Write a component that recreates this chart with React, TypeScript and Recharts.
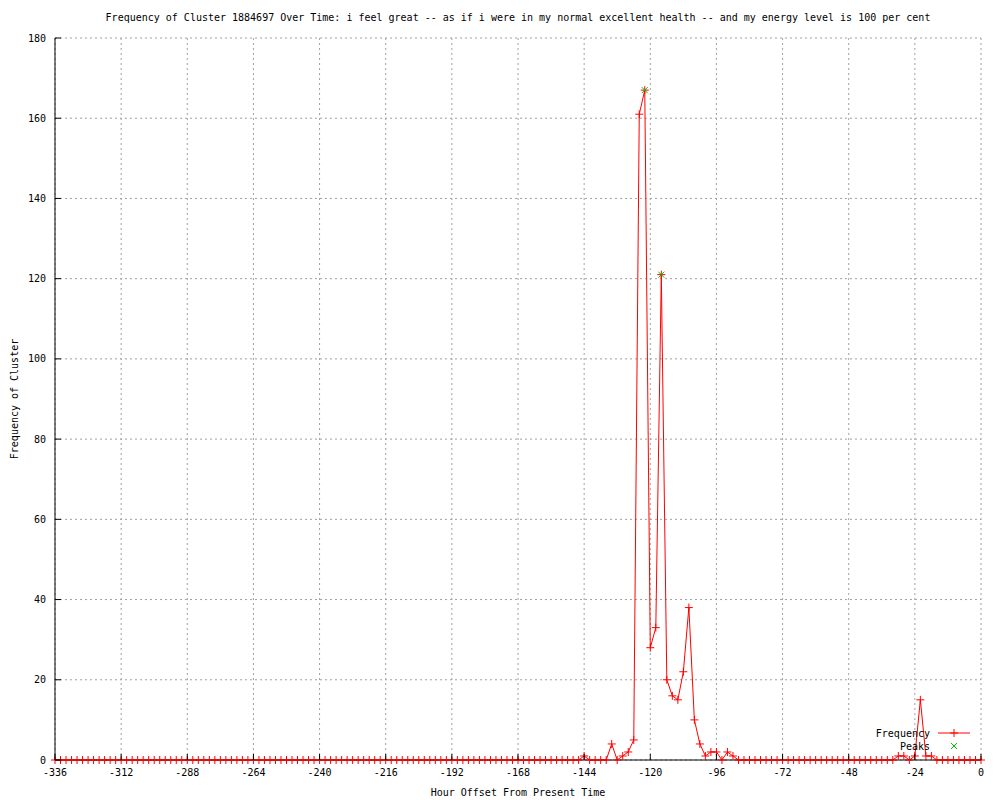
import { ComposedChart, Line, XAxis, YAxis, CartesianGrid, Legend } from 'recharts';

// one value every 2 hours, from -336 to 0
const frequency = [
  0, 0, 0, 0, 0, 0, 0, 0, 0, 0, 0, 0,
  0, 0, 0, 0, 0, 0, 0, 0, 0, 0, 0, 0,
  0, 0, 0, 0, 0, 0, 0, 0, 0, 0, 0, 0,
  0, 0, 0, 0, 0, 0, 0, 0, 0, 0, 0, 0,
  0, 0, 0, 0, 0, 0, 0, 0, 0, 0, 0, 0,
  0, 0, 0, 0, 0, 0, 0, 0, 0, 0, 0, 0,
  0, 0, 0, 0, 0, 0, 0, 0, 0, 0, 0, 0,
  0, 0, 0, 0, 0, 0, 0, 0, 0, 0, 0, 0,
  1, 0, 0, 0, 0, 4, 0, 1, 2, 5, 161, 167,
  28, 33, 121, 20, 16, 15, 22, 38, 10, 4, 1, 2,
  2, 0, 2, 1, 0, 0, 0, 0, 0, 0, 0, 0,
  0, 0, 0, 0, 0, 0, 0, 0, 0, 0, 0, 0,
  0, 0, 0, 0, 0, 0, 0, 0, 0, 1, 1, 0,
  1, 15, 1, 1, 0, 0, 0, 0, 0, 0, 0, 0,
  0,
];
const startHour = -336;
const stepHours = 2;

const peakHours = [-122, -116];
const peakValues = [167, 121];

const xTicks = [-336, -312, -288, -264, -240, -216, -192, -168, -144, -120, -96, -72, -48, -24, 0];
const yTicks = [0, 20, 40, 60, 80, 100, 120, 140, 160, 180];

const tableData = frequency.map((v, i) => {
  const hour = startHour + i * stepHours;
  const p = peakHours.indexOf(hour);
  return { hour, freq: v, peak: p >= 0 ? peakValues[p] : null };
});

const FONT = '"DejaVu Sans Mono", monospace';
const RED = '#ff0000';
const GREEN = '#00c000';

const PlusDot = (props: any) => {
  const { cx, cy } = props;
  if (cx == null || cy == null) return <g />;
  return <path d={`M${cx - 4},${cy}h8M${cx},${cy - 4}v8`} stroke={RED} strokeWidth={1} fill="none" />;
};

const CrossDot = (props: any) => {
  const { cx, cy } = props;
  if (cx == null || cy == null) return <g />;
  return <path d={`M${cx - 3},${cy - 3}l6,6M${cx - 3},${cy + 3}l6,-6`} stroke={GREEN} strokeWidth={1} fill="none" />;
};

const BottomTick = (props: any) => {
  const { x, y, payload } = props;
  const axisY = y - 9;
  return (
    <g>
      <line x1={x} y1={axisY} x2={x} y2={axisY - 6} stroke="#000" />
      <text x={x} y={y} dy="0.71em" textAnchor="middle" fontFamily={FONT} fontSize={10} fill="#000">
        {payload.value}
      </text>
    </g>
  );
};

const LeftTick = (props: any) => {
  const { x, y, payload } = props;
  const axisX = x + 9;
  return (
    <g>
      <line x1={axisX} y1={y} x2={axisX + 6} y2={y} stroke="#000" />
      <text x={x} y={y} dy="0.35em" textAnchor="end" fontFamily={FONT} fontSize={10} fill="#000">
        {payload.value}
      </text>
    </g>
  );
};

const TopTick = (props: any) => {
  const { x, y } = props;
  return <line x1={x} y1={y} x2={x} y2={y + 6} stroke="#000" />;
};

const RightTick = (props: any) => {
  const { x, y } = props;
  return <line x1={x} y1={y} x2={x - 6} y2={y} stroke="#000" />;
};

const LegendBox = () => (
  <svg width={120} height={30} style={{ display: 'block', overflow: 'visible' }}>
    <text x={60} y={12} textAnchor="end" fontFamily={FONT} fontSize={10} fill="#000">Frequency</text>
    <line x1={68} y1={8} x2={100} y2={8} stroke={RED} />
    <path d="M80,8h8M84,4v8" stroke={RED} fill="none" />
    <text x={60} y={25} textAnchor="end" fontFamily={FONT} fontSize={10} fill="#000">Peaks</text>
    <path d="M81,18l6,6M81,24l6,-6" stroke={GREEN} fill="none" />
  </svg>
);

export default function App() {
  return (
    <div style={{ position: 'absolute', left: 0, top: 0, width: 1000, height: 800, background: '#fff' }}>
      <div
        style={{
          position: 'absolute',
          left: 18,
          top: 12,
          width: 1000,
          textAlign: 'center',
          fontFamily: FONT,
          fontSize: 10,
          lineHeight: '12px',
          whiteSpace: 'nowrap',
        }}
      >
        Frequency of Cluster 1884697 Over Time: i feel great -- as if i were in my normal excellent health -- and my energy level is 100 per cent
      </div>
      <ComposedChart
        width={1000}
        height={800}
        data={tableData}
        margin={{ top: 38, right: 19, left: 10, bottom: 10 }}
      >
        <CartesianGrid stroke="#a0a0a0" strokeDasharray="2 3" />
        <XAxis
          dataKey="hour"
          type="number"
          domain={[-336, 0]}
          ticks={xTicks}
          interval={0}
          height={30}
          tickSize={0}
          tickMargin={9}
          tickLine={false}
          axisLine={{ stroke: '#000' }}
          tick={<BottomTick />}
          label={{ value: 'Hour Offset From Present Time', position: 'center', dy: 17, fontFamily: FONT, fontSize: 10, fill: '#000' }}
        />
        <XAxis
          xAxisId="top"
          dataKey="hour"
          type="number"
          orientation="top"
          domain={[-336, 0]}
          ticks={xTicks}
          interval={0}
          height={0}
          tickSize={0}
          tickMargin={0}
          tickLine={false}
          axisLine={{ stroke: '#000' }}
          tick={<TopTick />}
        />
        <YAxis
          type="number"
          domain={[0, 180]}
          ticks={yTicks}
          interval={0}
          width={45}
          tickSize={0}
          tickMargin={9}
          tickLine={false}
          axisLine={{ stroke: '#000' }}
          tick={<LeftTick />}
          label={{ value: 'Frequency of Cluster', angle: -90, position: 'center', dx: -18, fontFamily: FONT, fontSize: 10, fill: '#000' }}
        />
        <YAxis
          yAxisId="right"
          type="number"
          orientation="right"
          domain={[0, 180]}
          ticks={yTicks}
          interval={0}
          width={0}
          tickSize={0}
          tickMargin={0}
          tickLine={false}
          axisLine={{ stroke: '#000' }}
          tick={<RightTick />}
        />
        <Legend
          content={<LegendBox />}
          height={0}
          wrapperStyle={{ position: 'absolute', left: 870, top: 725, width: 120, height: 0, overflow: 'visible', bottom: 'auto' }}
        />
        <Line
          type="linear"
          dataKey="freq"
          stroke={RED}
          strokeWidth={1}
          dot={<PlusDot />}
          activeDot={false}
          isAnimationActive={false}
        />
        <Line
          type="linear"
          dataKey="peak"
          stroke="none"
          dot={<CrossDot />}
          activeDot={false}
          connectNulls={false}
          isAnimationActive={false}
        />
      </ComposedChart>
    </div>
  );
}
